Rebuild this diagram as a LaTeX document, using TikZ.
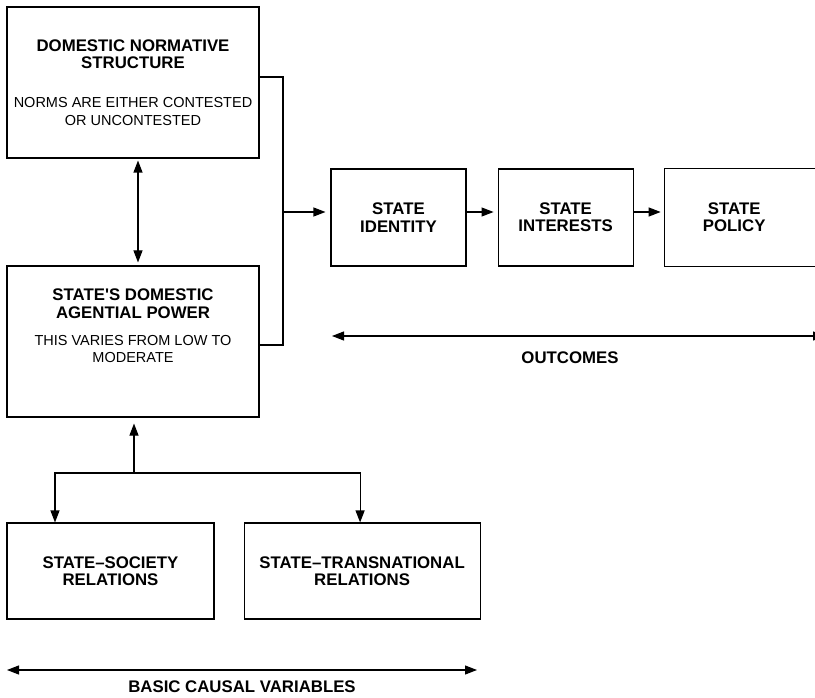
\documentclass[tikz,border=0pt]{standalone}
\usepackage{fontspec}
\setmainfont{Liberation Sans}[Ligatures=TeXOff]
\usetikzlibrary{arrows.meta,positioning}

\newcommand{\hd}[1]{{\fontsize{16.8}{17.3}\selectfont\bfseries #1}}

\begin{document}
\begin{tikzpicture}[x=1pt, y=-1pt, line width=1.1pt,
	font=\fontsize{14.5}{17.3}\selectfont,
	box/.style={draw, align=center, inner sep=0pt},
	head/.style={font=\fontsize{16.8}{17.3}\selectfont\bfseries},
	arr/.style={-{Triangle[length=12pt,width=9pt]}},
	dbl/.style={{Triangle[length=12pt,width=9pt]}-{Triangle[length=12pt,width=9pt]}}]
	\useasboundingbox (0,0) rectangle (815,698);
	\clip (0,0) rectangle (815,698);

	% Left column
	\node[box, minimum width=252, minimum height=151] (dns) at (133,82.5)
		{\hd{DOMESTIC NORMATIVE}\\\hd{STRUCTURE}\\[22pt]NORMS ARE EITHER CONTESTED\\OR UNCONTESTED};
	\node[box, minimum width=252, minimum height=151] (sdap) at (133,341.5)
		{\hd{STATE'S DOMESTIC}\\\hd{AGENTIAL POWER}\\[10pt]THIS VARIES FROM LOW TO\\MODERATE\\[14pt]};

	% Outcomes row
	\node[box, minimum width=135, minimum height=97] (identity) at (398.5,217.5) {\hd{STATE}\\\hd{IDENTITY}};
	\node[box, minimum width=135, minimum height=97, right=31pt of identity] (interests) {\hd{STATE}\\\hd{INTERESTS}};
	\node[box, draw=none, minimum width=138, minimum height=97, right=31pt of interests] (policy) {\hd{STATE}\\\hd{POLICY}};
	\draw ([xshift=60]policy.north east) -- (policy.north west) -- (policy.south west) -- ([xshift=60]policy.south east);

	% Basic causal variables
	\node[box, minimum width=207, minimum height=96] (society) at (110.5,571) {\hd{STATE–SOCIETY}\\\hd{RELATIONS}};
	\node[box, minimum width=236, minimum height=96, right=29pt of society] (trans) {\hd{STATE–TRANSNATIONAL}\\\hd{RELATIONS}};

	% Bracket into the outcomes
	\coordinate (joint) at (283,212);
	\draw ([yshift=5.5]dns.east) -| (joint) |- ([yshift=-3.5]sdap.east);
	\draw[arr, shorten >=5pt] (joint) -- (joint -| identity.west);
	\draw[arr, shorten >=4pt] (identity.east |- joint) -- (interests.west |- joint);
	\draw[arr, shorten >=4pt] (interests.east |- joint) -- (policy.west |- joint);

	% Between the left boxes
	\draw[dbl, shorten <=2pt, shorten >=3pt] ([xshift=5]dns.south) -- ([xshift=5]sdap.north);

	% Fork from the bottom boxes
	\coordinate (fork) at (134,473);
	\draw[arr, shorten >=6pt] (fork) -- (fork |- sdap.south);
	\draw[arr] (fork) -| ([xshift=-55.5]society.north);
	\draw[arr] (fork) -| ([xshift=-2]trans.north);

	% Range arrows
	\coordinate (outL) at (332,336);
	\coordinate (outR) at (825,336);
	\draw[dbl] (outL) -- (outR);
	\node[head] (outcomes) at (570,358) {OUTCOMES};

	\coordinate (basL) at (7,670);
	\coordinate (basR) at (477,670);
	\draw[dbl] (basL) -- (basR);
	\node[head] (basic) at (242,687) {BASIC CAUSAL VARIABLES};

\end{tikzpicture}
\end{document}
